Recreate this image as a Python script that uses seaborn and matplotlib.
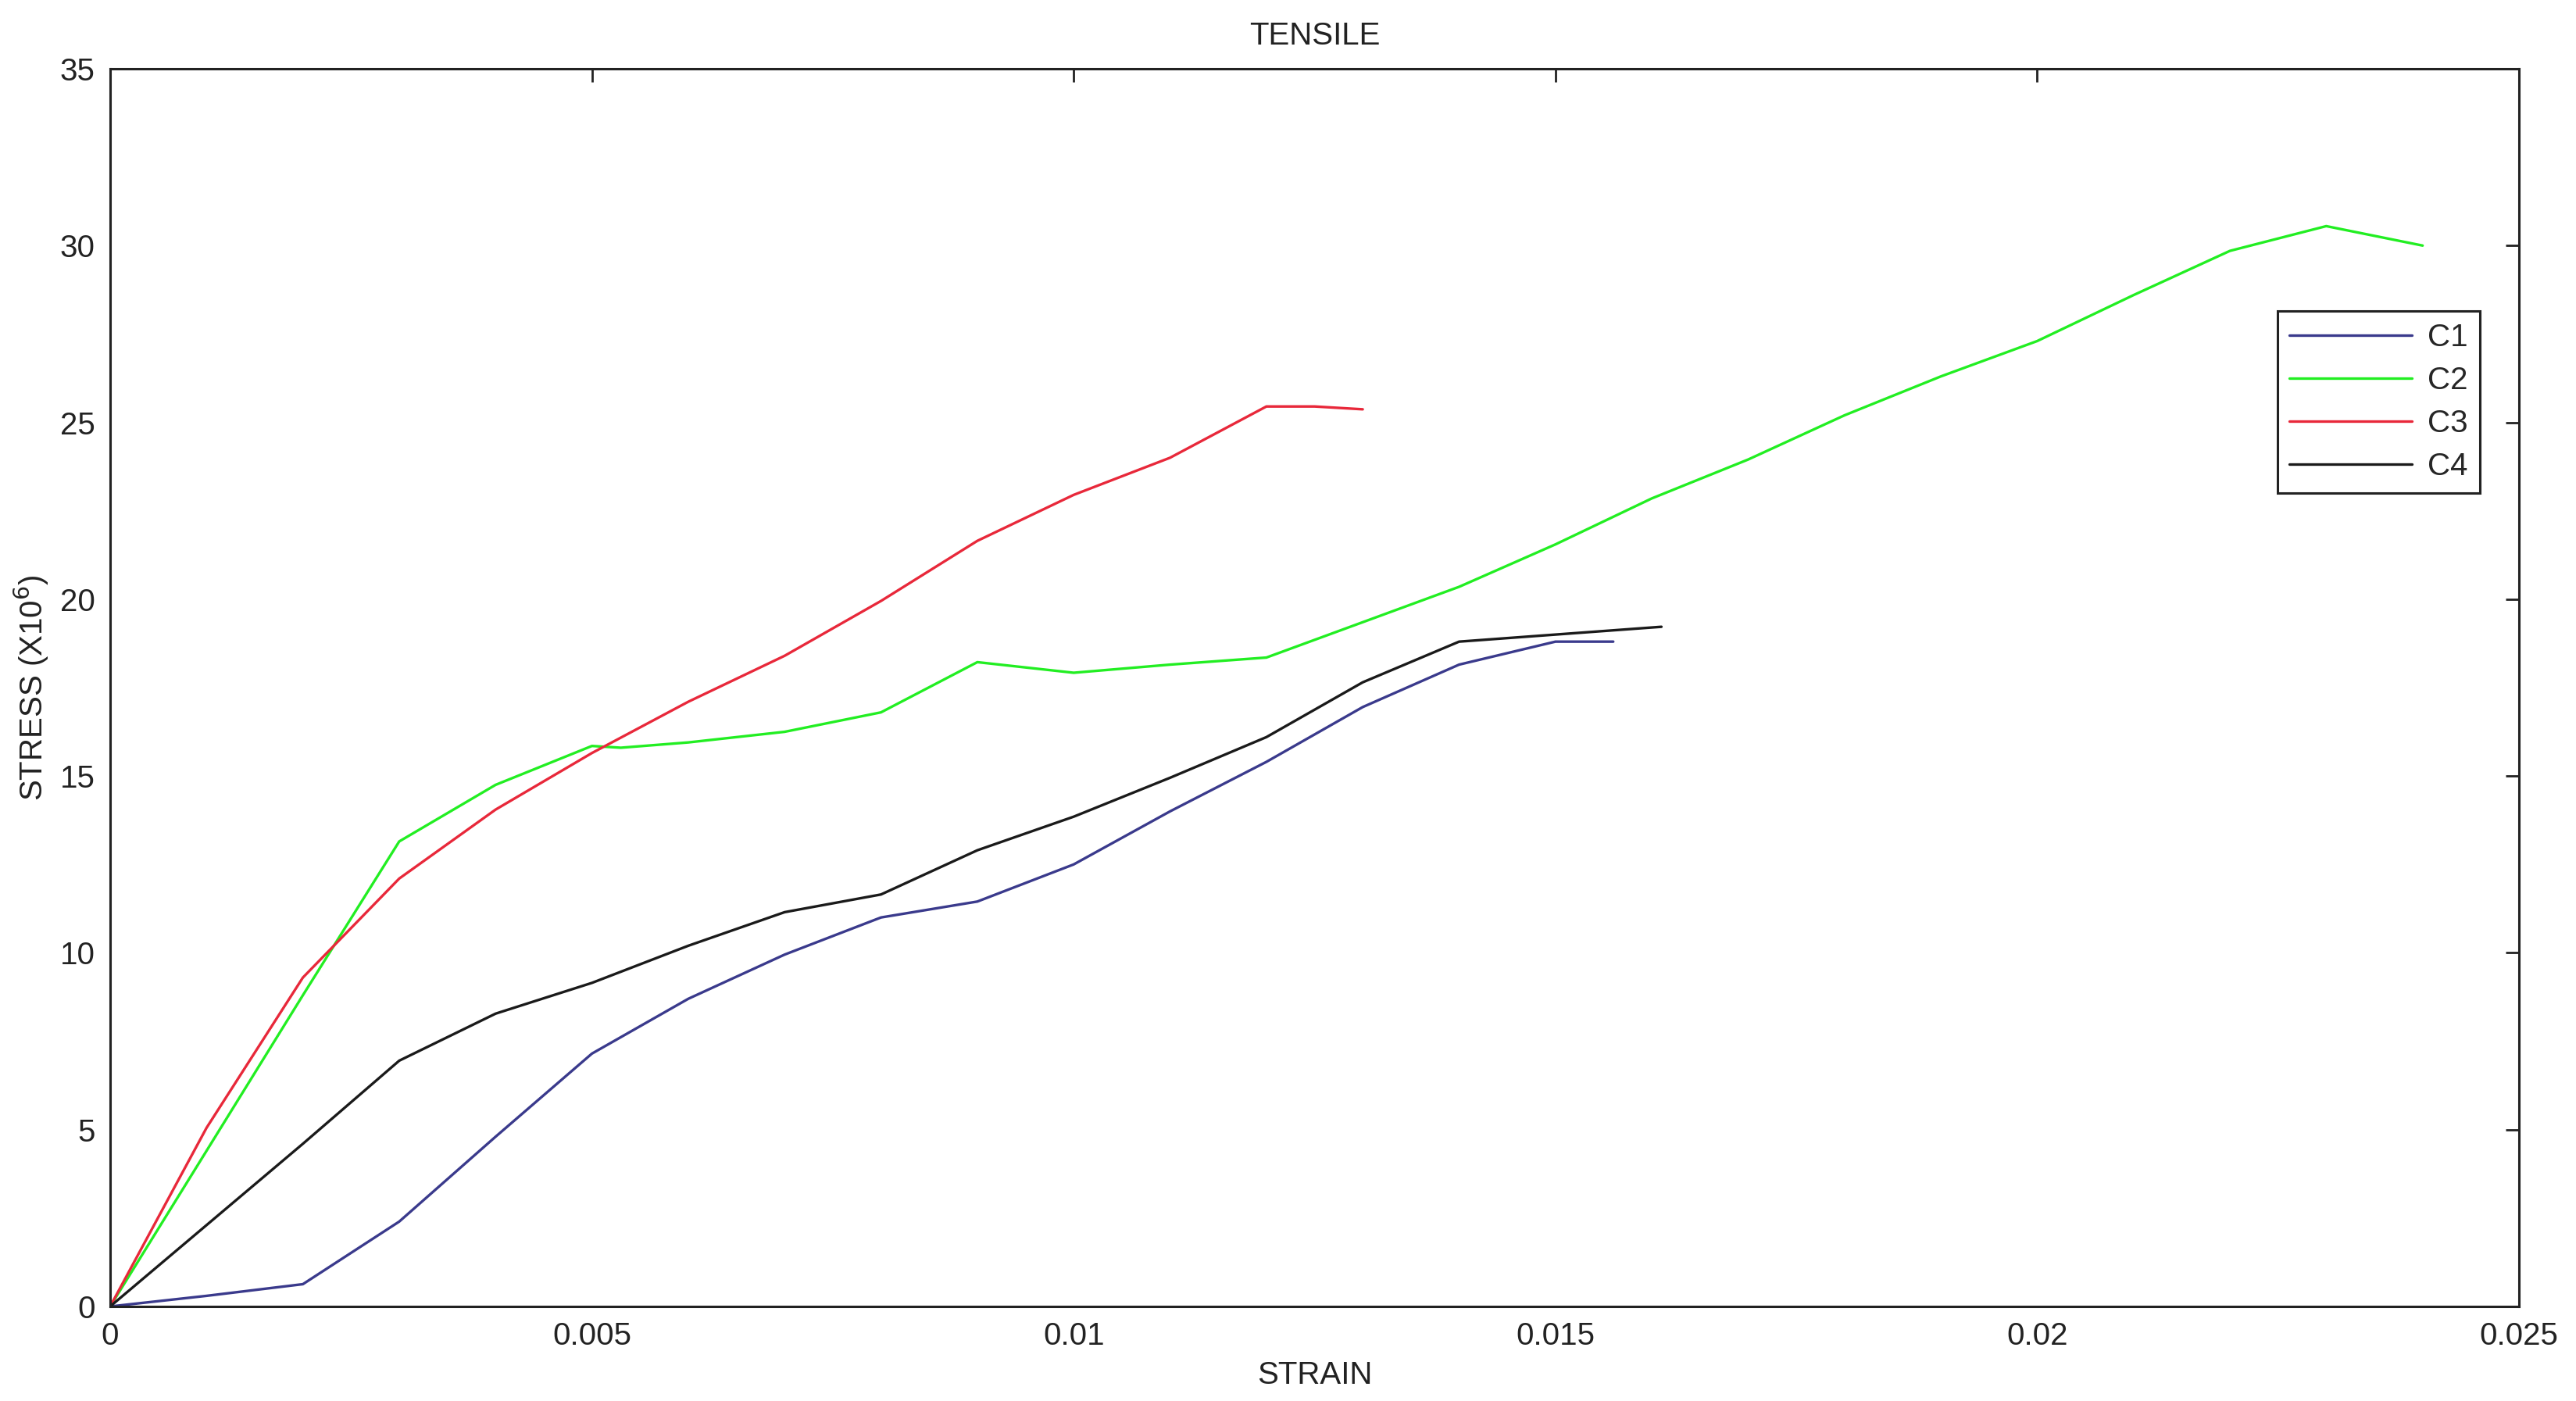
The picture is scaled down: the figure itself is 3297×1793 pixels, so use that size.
import numpy as np
import pandas as pd
import matplotlib
matplotlib.use("Agg")
import matplotlib.pyplot as plt
import seaborn as sns

# ---- data ----
c1_strain = [0, 0.001, 0.002, 0.003, 0.004, 0.005, 0.006, 0.007, 0.008, 0.009, 0.010, 0.011, 0.012, 0.013, 0.014, 0.015, 0.0156]
c1_stress = [0, 0.3, 0.63, 2.4, 4.8, 7.15, 8.7, 9.95, 11.0, 11.45, 12.5, 14.0, 15.4, 16.95, 18.15, 18.8, 18.8]

c2_strain = [0, 0.001, 0.002, 0.003, 0.004, 0.005, 0.0053, 0.006, 0.007, 0.008, 0.009, 0.010, 0.011, 0.012, 0.013, 0.014,
             0.015, 0.016, 0.017, 0.018, 0.019, 0.020, 0.021, 0.022, 0.023, 0.024]
c2_stress = [0, 4.4, 8.8, 13.15, 14.75, 15.85, 15.8, 15.95, 16.25, 16.8, 18.22, 17.92, 18.15, 18.35, 19.35, 20.35,
             21.55, 22.85, 23.95, 25.2, 26.3, 27.3, 28.6, 29.85, 30.55, 30.0]

c3_strain = [0, 0.001, 0.002, 0.003, 0.004, 0.005, 0.006, 0.007, 0.008, 0.009, 0.010, 0.011, 0.012, 0.0125, 0.013]
c3_stress = [0, 5.05, 9.3, 12.1, 14.05, 15.65, 17.1, 18.4, 19.95, 21.65, 22.95, 24.0, 25.45, 25.45, 25.37]

c4_strain = [0, 0.001, 0.002, 0.003, 0.004, 0.005, 0.006, 0.007, 0.008, 0.009, 0.010, 0.011, 0.012, 0.013, 0.014, 0.015, 0.0161]
c4_stress = [0, 2.3, 4.6, 6.95, 8.28, 9.15, 10.2, 11.15, 11.65, 12.9, 13.85, 14.95, 16.1, 17.65, 18.8, 19.0, 19.22]

series_names = ["C1", "C2", "C3", "C4"]
series_colors = ["#3a3a8c", "#22ee22", "#e8283a", "#1a1a1a"]

x_ticks = [0, 0.005, 0.01, 0.015, 0.02, 0.025]
x_tick_labels = ["0", "0.005", "0.01", "0.015", "0.02", "0.025"]
y_ticks = [0, 5, 10, 15, 20, 25, 30, 35]
y_tick_labels = ["0", "5", "10", "15", "20", "25", "30", "35"]

frames = []
for name, xs, ys in zip(series_names,
                        [c1_strain, c2_strain, c3_strain, c4_strain],
                        [c1_stress, c2_stress, c3_stress, c4_stress]):
    frames.append(pd.DataFrame({"strain": xs, "stress": ys, "series": name}))
df = pd.concat(frames, ignore_index=True)

sns.set_theme(style="white")
plt.rcParams["font.family"] = ["Liberation Sans Narrow", "Liberation Sans", "DejaVu Sans"]

fig = plt.figure(figsize=(32.98, 17.93), dpi=100)
ax = fig.add_axes([141/3298, 1 - 1672/1793, (3224-141)/3298, (1672-88)/1793])

sns.lineplot(data=df, x="strain", y="stress", hue="series", hue_order=series_names,
             palette=dict(zip(series_names, series_colors)), estimator=None, sort=False,
             linewidth=2.4, ax=ax, legend=False)

ax.set_xlim(0, 0.025)
ax.set_ylim(0, 35)
ax.set_xticks(x_ticks)
ax.set_xticklabels(x_tick_labels)
ax.set_yticks(y_ticks)
ax.set_yticklabels(y_tick_labels)
ax.tick_params(direction="in", length=12, width=2, top=True, right=True,
               labelsize=29, colors="#222222", pad=14)
for s in ax.spines.values():
    s.set_visible(True)
    s.set_color("#222222")
    s.set_linewidth(2.2)

ax.set_xlabel("STRAIN", fontsize=29, color="#222222", labelpad=8)
ax.set_ylabel(r"STRESS (X10$^6$)", fontsize=29, color="#222222", labelpad=8)
ax.set_title("TENSILE", fontsize=29, color="#222222", pad=22)

handles = [plt.Line2D([], [], color=c, lw=2.4) for c in series_colors]
leg = ax.legend(handles, series_names, loc="upper right", bbox_to_anchor=(0.9838, 0.8043),
                borderaxespad=0, fontsize=29, frameon=True, fancybox=False, framealpha=1,
                handlelength=3.9, handletextpad=0.5, labelspacing=0.42, borderpad=0.38)
leg.get_frame().set_edgecolor("#222222")
leg.get_frame().set_linewidth(2.2)

fig.savefig("out.png", dpi=100, facecolor="white")
